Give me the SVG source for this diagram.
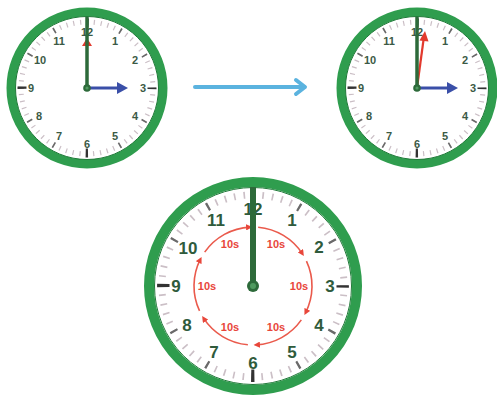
<svg xmlns="http://www.w3.org/2000/svg" width="497" height="397" viewBox="0 0 497 397">
<style>
.face{fill:#fff;stroke:#2f9d4e}
.edge{fill:none;stroke:#1f7a38;stroke-width:1}
.num{font-family:"Liberation Sans",Arial,sans-serif;font-weight:bold;fill:#3b5a45;text-anchor:middle;dominant-baseline:central}
.n1{font-size:11px}
.n3{font-size:17px;fill:#2f5b3c}
.lbl{font-family:"Liberation Sans",Arial,sans-serif;font-weight:bold;font-size:11px;fill:#e8463a;text-anchor:middle;dominant-baseline:central}
.arc{fill:none;stroke:#ea5a4c;stroke-width:1.6;marker-end:url(#ah)}
.mh{stroke:#2d6a3a;stroke-linecap:butt}
</style>
<defs>
<marker id="ah" viewBox="0 0 10 10" refX="6" refY="5" markerWidth="4" markerHeight="4" orient="auto" markerUnits="strokeWidth">
<path d="M0,0 L10,5 L0,10 z" fill="#e8463a"/>
</marker>
<g id="ticks">
<circle r="66" fill="none" stroke="#cbbfc6" stroke-width="5" stroke-dasharray="1.2 5.7115" stroke-dashoffset="0.6"/>
<circle r="66" fill="none" stroke="#6a6a6a" stroke-width="6" stroke-dasharray="1.6 32.9575" stroke-dashoffset="0.8"/>
<circle r="65" fill="none" stroke="#333" stroke-width="9" stroke-dasharray="2.4 99.70" stroke-dashoffset="1.2"/>
</g>
</defs>

<g id="clock1">
<circle class="face" cx="87" cy="88" r="76" stroke-width="9"/>
<circle class="edge" cx="87" cy="88" r="71.5"/>
<use href="#ticks" transform="translate(87,88)"/>
<text class="num n1" x="87" y="32">12</text>
<text class="num n1" x="115" y="41">1</text>
<text class="num n1" x="135" y="60">2</text>
<text class="num n1" x="143" y="88">3</text>
<text class="num n1" x="135" y="116">4</text>
<text class="num n1" x="115" y="136">5</text>
<text class="num n1" x="87" y="144">6</text>
<text class="num n1" x="59" y="136">7</text>
<text class="num n1" x="39" y="116">8</text>
<text class="num n1" x="31" y="88">9</text>
<text class="num n1" x="40" y="60">10</text>
<text class="num n1" x="59" y="41">11</text>
<line x1="87" y1="88" x2="87" y2="46" stroke="#e2392d" stroke-width="2"/>
<path d="M82,46 L87,38 L92,46 z" fill="#e2392d"/>
<line class="mh" x1="87" y1="88" x2="87" y2="17" stroke-width="3.5"/>
<line x1="87" y1="88" x2="118" y2="88" stroke="#3a4fa8" stroke-width="3"/>
<path d="M117,82 L128,88 L117,94 z" fill="#3a4fa8"/>
<circle cx="87" cy="88" r="3.8" fill="#2d6a3a"/>
<circle cx="87" cy="88" r="1.6" fill="#4f9a5f"/>
</g>

<g id="clock2">
<circle class="face" cx="417" cy="88" r="76" stroke-width="9"/>
<circle class="edge" cx="417" cy="88" r="71.5"/>
<use href="#ticks" transform="translate(417,88)"/>
<text class="num n1" x="417" y="32">12</text>
<text class="num n1" x="445" y="41">1</text>
<text class="num n1" x="465" y="60">2</text>
<text class="num n1" x="473" y="88">3</text>
<text class="num n1" x="465" y="116">4</text>
<text class="num n1" x="445" y="136">5</text>
<text class="num n1" x="417" y="144">6</text>
<text class="num n1" x="389" y="136">7</text>
<text class="num n1" x="369" y="116">8</text>
<text class="num n1" x="361" y="88">9</text>
<text class="num n1" x="370" y="60">10</text>
<text class="num n1" x="389" y="41">11</text>
<line x1="417" y1="88" x2="423.5" y2="40" stroke="#e2392d" stroke-width="2.2"/>
<path d="M419.5,40.5 L425,31 L428.5,41.5 z" fill="#e2392d"/>
<line class="mh" x1="417" y1="88" x2="417" y2="17" stroke-width="3.5"/>
<line x1="417" y1="88" x2="448" y2="88" stroke="#3a4fa8" stroke-width="3"/>
<path d="M447,82 L458,88 L447,94 z" fill="#3a4fa8"/>
<circle cx="417" cy="88" r="3.8" fill="#2d6a3a"/>
<circle cx="417" cy="88" r="1.6" fill="#4f9a5f"/>
</g>

<g id="connectors">
<line x1="195" y1="87" x2="304" y2="87" stroke="#5bb3df" stroke-width="4" stroke-linecap="round"/>
<polyline points="296,80 305,87 296,94" fill="none" stroke="#5bb3df" stroke-width="4" stroke-linecap="round" stroke-linejoin="round"/>
</g>

<g id="clock3">
<circle class="face" cx="253" cy="286" r="104" stroke-width="10"/>
<circle class="edge" cx="253" cy="286" r="98.5"/>
<use href="#ticks" transform="translate(253,286) scale(1.38)"/>
<text class="num n3" x="253" y="209">12</text>
<text class="num n3" x="292" y="220">1</text>
<text class="num n3" x="319" y="247">2</text>
<text class="num n3" x="330" y="286">3</text>
<text class="num n3" x="319" y="325">4</text>
<text class="num n3" x="292" y="352">5</text>
<text class="num n3" x="253" y="363">6</text>
<text class="num n3" x="214" y="352">7</text>
<text class="num n3" x="187" y="325">8</text>
<text class="num n3" x="176" y="286">9</text>
<text class="num n3" x="188" y="248">10</text>
<text class="num n3" x="216" y="220">11</text>
<path class="arc" d="M258.14,227.22 A59,59 0 0 1 302.48,253.87"/>
<path class="arc" d="M306.47,261.07 A59,59 0 0 1 305.57,312.79"/>
<path class="arc" d="M301.33,319.84 A59,59 0 0 1 256.09,344.92"/>
<path class="arc" d="M247.86,344.78 A59,59 0 0 1 203.52,318.13"/>
<path class="arc" d="M199.53,310.93 A59,59 0 0 1 200.43,259.21"/>
<path class="arc" d="M204.67,252.16 A59,59 0 0 1 249.91,227.08"/>
<text class="lbl" x="276" y="244">10s</text>
<text class="lbl" x="299" y="286">10s</text>
<text class="lbl" x="276" y="327">10s</text>
<text class="lbl" x="230" y="327">10s</text>
<text class="lbl" x="207" y="286">10s</text>
<text class="lbl" x="230" y="244">10s</text>
<line class="mh" x1="253" y1="286" x2="253" y2="187" stroke-width="6"/>
<circle cx="253" cy="286" r="6" fill="#2d6a3a"/>
<circle cx="253" cy="286" r="3" fill="#4f9a5f"/>
</g>
</svg>
